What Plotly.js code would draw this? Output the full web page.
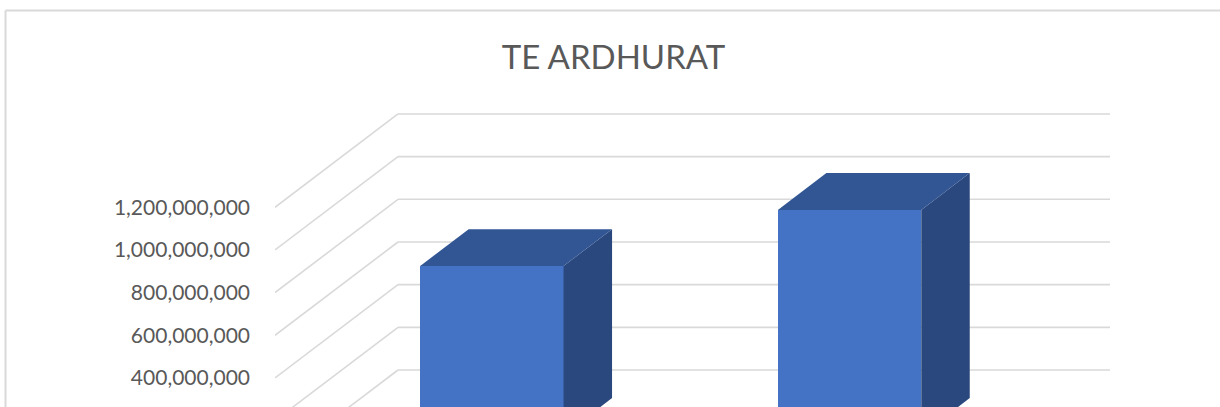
<!DOCTYPE html>
<html>
<head>
<meta charset="utf-8">
<script src="https://cdn.plot.ly/plotly-3.0.1.min.js"></script>
<style>html,body{margin:0;padding:0;background:#fff;overflow:hidden}#c{width:1220px;height:407px}</style>
</head>
<body>
<div id="c"></div>
<script>
const chartTitle = "TE ARDHURAT";
const categorySlots = [0, 1];
const seriesValues = [792000000, 1055000000];
const tickValues = [0, 200000000, 400000000, 600000000, 800000000, 1000000000, 1200000000];

// page geometry
const W = 1220, H = 407;
const plotL = 275, plotR = 1110, plotT = 100;
const pxPerUnitX = 357.7;
const pxPerUnitY = 42.67 / 200000000;
const zeroPx = 463.3;

const xMin = -0.5, xMax = xMin + (plotR - plotL) / pxPerUnitX;
const yMin = (zeroPx - H) / pxPerUnitY, yMax = (zeroPx - plotT) / pxPerUnitY;

// 3-D projection offsets, in axis units
const wallDX = 123 / pxPerUnitX, wallDY = 93.3 / pxPerUnitY;
const barDX = 48.5 / pxPerUnitX, barDY = 36.9 / pxPerUnitY;
const liftDX = 38.0 / pxPerUnitX, liftDY = 28.3 / pxPerUnitY;
const barWidth = 143.4 / pxPerUnitX;

const FRONT = "#4472C4", TOP = "#325694", SIDE = "#2A487D", GRID = "#D9D9D9";

const traces = [];
traces.push({
  type: "bar", x: categorySlots.map(c => c + liftDX), y: seriesValues,
  base: categorySlots.map(() => liftDY), width: barWidth,
  marker: {color: FRONT, line: {width: 0}}, hoverinfo: "skip", showlegend: false
});
categorySlots.forEach((c, i) => {
  const l = c + liftDX - barWidth / 2, r = l + barWidth;
  const b = liftDY, t = liftDY + seriesValues[i];
  traces.push({
    type: "scatter", mode: "lines", fill: "toself", fillcolor: SIDE, line: {width: 0},
    x: [r, r, r + barDX, r + barDX, r], y: [b, t, t + barDY, b + barDY, b],
    hoverinfo: "skip", showlegend: false
  });
  traces.push({
    type: "scatter", mode: "lines", fill: "toself", fillcolor: TOP, line: {width: 0},
    x: [l, r, r + barDX, l + barDX, l], y: [t, t, t + barDY, t + barDY, t],
    hoverinfo: "skip", showlegend: false
  });
});

const shapes = [];
const gridLine = {color: GRID, width: 1.6};
tickValues.forEach(v => {
  shapes.push({type: "line", layer: "below", xref: "x", yref: "y",
    x0: xMin, y0: v, x1: xMin + wallDX, y1: v + wallDY, line: gridLine});
  shapes.push({type: "line", layer: "below", xref: "x", yref: "y",
    x0: xMin + wallDX, y0: v + wallDY, x1: xMax, y1: v + wallDY, line: gridLine});
});
// chart frame: top and left edges, the rest is outside the photographed area
const px = p => (p - plotL) / (plotR - plotL);
const py = p => 1 - (p - plotT) / (H - plotT);
const frame = {color: "#D9D9D9", width: 2};
shapes.push({type: "line", xref: "paper", yref: "paper", x0: px(5.5), y0: py(10.5), x1: px(W), y1: py(10.5), line: frame});
shapes.push({type: "line", xref: "paper", yref: "paper", x0: px(5.5), y0: py(10.5), x1: px(5.5), y1: py(H), line: frame});

const layout = {
  width: W, height: H,
  margin: {l: plotL, r: W - plotR, t: plotT, b: 0, pad: 0},
  paper_bgcolor: "#fff", plot_bgcolor: "rgba(0,0,0,0)",
  showlegend: false,
  bargap: 0,
  title: {
    text: chartTitle, xref: "container", yref: "container",
    x: 613.5 / W, xanchor: "center", y: 1 - 57 / H, yanchor: "middle",
    font: {family: "Lato, sans-serif", size: 33, color: "#595959"}
  },
  xaxis: {visible: false, range: [xMin, xMax], fixedrange: true},
  yaxis: {
    range: [yMin, yMax], autorange: false, fixedrange: true,
    showgrid: false, zeroline: false, showline: false,
    tickmode: "array", tickvals: tickValues,
    tickformat: ",d", ticks: "", ticklabelstandoff: 24,
    tickfont: {family: "Lato, sans-serif", size: 21, color: "#595959"}
  },
  shapes: shapes
};
Plotly.newPlot("c", traces, layout, {displayModeBar: false, staticPlot: true});
</script>
</body>
</html>
